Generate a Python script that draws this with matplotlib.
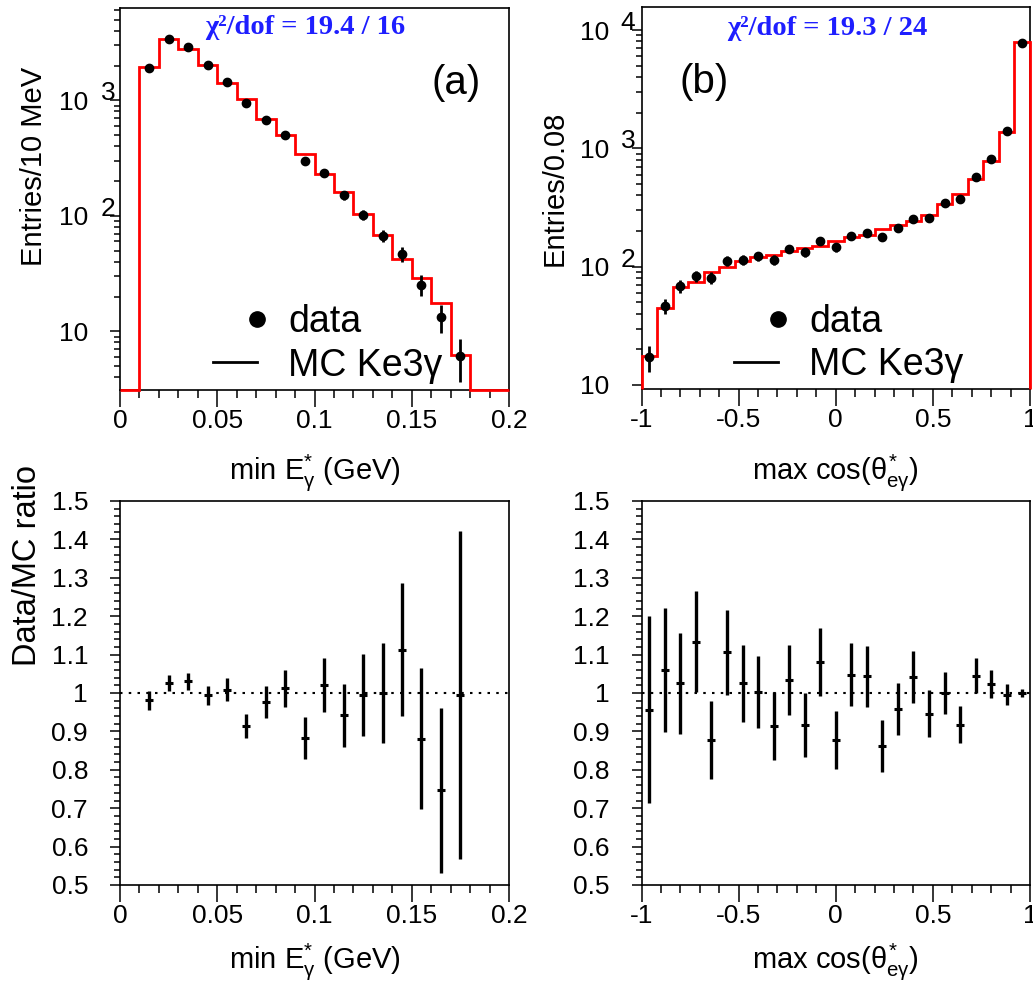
import numpy as np
import matplotlib
matplotlib.use("Agg")
import matplotlib.pyplot as plt
from matplotlib.ticker import MultipleLocator, FuncFormatter, LogLocator, NullFormatter, FixedLocator
from matplotlib.lines import Line2D
from matplotlib.legend_handler import HandlerBase
import matplotlib.transforms as mtransforms

plt.rcParams['font.family'] = ['Liberation Sans', 'DejaVu Sans']
plt.rcParams['mathtext.fontset'] = 'custom'
plt.rcParams['mathtext.rm'] = 'Liberation Sans'
plt.rcParams['mathtext.it'] = 'Liberation Sans'
plt.rcParams['mathtext.bf'] = 'Liberation Sans:bold'

# ---------------- data: panel (a) min E*_gamma ----------------
egam_edges = np.linspace(0.0, 0.2, 21)
egam_mc = np.array([0, 1941, 3388, 2805, 2032, 1406, 1026, 687, 498, 340,
                    232, 160, 103, 68, 42.6, 28.9, 17.6, 6.2, 0, 0])
egam_data = np.array([0, 1915, 3428, 2904, 2032, 1429, 942, 673, 498, 299,
                      235, 150, 102, 67, 47, 25.4, 13.2, 6.1, 0, 0])
egam_ratio = np.array([np.nan, 0.981, 1.026, 1.030, 0.994, 1.009, 0.915, 0.976, 1.012, 0.883,
                       1.021, 0.942, 0.995, 1.000, 1.113, 0.881, 0.747, 0.995, np.nan, np.nan])
egam_ratio_err = np.array([np.nan, 0.024, 0.020, 0.021, 0.024, 0.029, 0.031, 0.041, 0.048, 0.054,
                           0.071, 0.082, 0.106, 0.129, 0.173, 0.184, 0.215, 0.426, np.nan, np.nan])

# ---------------- data: panel (b) max cos(theta*_e gamma) ----------------
cos_edges = np.linspace(-1.0, 1.0, 26)
cos_mc = np.array([17.7, 44.5, 66.9, 73.8, 90.7, 100, 111.7, 120, 125.5, 136.5,
                   143, 149.7, 166, 177, 184, 207, 225, 245, 273.5, 339,
                   412, 551, 787, 1384, 7980])
cos_data = np.array([17.1, 46.8, 68.7, 83.4, 80.7, 111.7, 113.9, 123.1, 113.9, 141.2,
                     132.5, 164.8, 145.9, 182.8, 191.5, 177.2, 211, 251.8, 259.6, 343.6,
                     373.5, 576, 809, 1403, 7830])
cos_ratio = np.array([0.957, 1.060, 1.025, 1.134, 0.877, 1.106, 1.025, 1.002, 0.914, 1.035,
                      0.917, 1.080, 0.878, 1.048, 1.043, 0.862, 0.959, 1.041, 0.946, 1.000,
                      0.917, 1.045, 1.024, 0.996, 1.000])
cos_ratio_err = np.array([0.244, 0.162, 0.131, 0.131, 0.101, 0.110, 0.100, 0.094, 0.089, 0.091,
                          0.084, 0.088, 0.076, 0.081, 0.080, 0.067, 0.068, 0.068, 0.061, 0.055,
                          0.048, 0.045, 0.037, 0.027, 0.011])

chi2_a = "χ²/dof = 19.4 / 16"
chi2_b = "χ²/dof = 19.3 / 24"
legend_labels = ['data', 'MC Ke3γ']

W, H = 1033, 986
fig = plt.figure(figsize=(W / 100, H / 100), dpi=100)


def frac_axes(x0, x1, ytop, ybot):
    return fig.add_axes([x0 / W, (H - ybot) / H, (x1 - x0) / W, (ybot - ytop) / H])


axA = frac_axes(120, 509, 8, 390)
axB = frac_axes(641.5, 1030, 7.5, 389)
axC = frac_axes(120, 509, 501, 885)
axD = frac_axes(641.5, 1030, 501, 885)

TICK_FS = 19
LABEL_FS = 21

for ax in (axA, axB, axC, axD):
    for s in ax.spines.values():
        s.set_linewidth(1.2)
    ax.tick_params(axis='x', which='major', direction='out', length=12, width=1.1,
                   labelsize=TICK_FS, pad=2, top=False)
    ax.tick_params(axis='x', which='minor', direction='out', length=6, width=1.1, top=False)
    ax.tick_params(axis='y', which='major', direction='out', length=7, width=1.1,
                   labelsize=TICK_FS, pad=16, right=False)
    ax.tick_params(axis='y', which='minor', direction='out', length=4.5, width=1.1, right=False)

fmt_g = FuncFormatter(lambda v, p: "%g" % v)


def pow_label(ax, x_exp, yvals):
    tr = mtransforms.blended_transform_factory(ax.transAxes, ax.transData)
    for v in yvals:
        n = int(round(np.log10(v)))
        ax.text(x_exp, v, str(n), transform=tr, ha='left', va='baseline',
                fontsize=TICK_FS, clip_on=False)


def log_setup(ax, ylo, yhi, majors, x_exp):
    ax.set_yscale('log')
    ax.set_ylim(ylo, yhi)
    ax.yaxis.set_major_locator(FixedLocator(majors))
    ax.yaxis.set_major_formatter(FuncFormatter(lambda v, p: "10"))
    ax.yaxis.set_minor_locator(LogLocator(base=10, subs=np.arange(2, 10)))
    ax.yaxis.set_minor_formatter(NullFormatter())
    pow_label(ax, x_exp, [m for m in majors if m > 10])


class RightDot(HandlerBase):
    def create_artists(self, legend, orig_handle, xdescent, ydescent, width, height,
                       fontsize, trans):
        m = Line2D([width - xdescent], [height / 2.0 - ydescent], marker='o', ls='',
                   color='k', ms=11, transform=trans)
        return [m]


def legend(ax, x0, yc):
    dot = Line2D([], [], marker='o', ls='', color='k', ms=11)
    line = Line2D([], [], color='k', lw=2)
    ax.legend([dot, line], legend_labels, loc='center left', bbox_to_anchor=(x0, yc),
              frameon=False, fontsize=27, handlelength=1.17, handletextpad=0.83,
              labelspacing=0.2, borderpad=0, borderaxespad=0,
              handler_map={dot: RightDot()})


# ---------------- panel (a) ----------------
yloA, yhiA = 3.1, 6300
ca = 0.5 * (egam_edges[:-1] + egam_edges[1:])
axA.stairs(np.where(egam_mc > 0, egam_mc, yloA), egam_edges, color='red', lw=2,
           baseline=None, zorder=3, clip_on=False)
m = egam_data > 0
axA.errorbar(ca[m], egam_data[m], yerr=np.sqrt(egam_data[m]), fmt='o', color='k',
             ms=6, elinewidth=2, capsize=0, zorder=4)
axA.set_xlim(0, 0.2)
log_setup(axA, yloA, yhiA, [10, 100, 1000], -0.050)
axA.xaxis.set_major_locator(MultipleLocator(0.05))
axA.xaxis.set_minor_locator(MultipleLocator(0.01))
axA.xaxis.set_major_formatter(fmt_g)
axA.set_xlabel(r"min E$^{*}_{\gamma}$ (GeV)", fontsize=LABEL_FS, va='baseline')
axA.xaxis.set_label_coords(0.5, -0.232)
axA.set_ylabel("Entries/10 MeV", fontsize=LABEL_FS, va='center', ha='center')
axA.yaxis.set_label_coords(-0.221, 0.584)
axA.text(0.476, 0.948, chi2_a, transform=axA.transAxes, ha='center', va='center',
         family='Liberation Serif', weight='bold', color='#1e1eff', fontsize=20.5)
axA.text(0.864, 0.804, "(a)", transform=axA.transAxes, ha='center', va='center', fontsize=29)
legend(axA, 0.239, 0.121)

# ---------------- panel (b) ----------------
yloB, yhiB = 9.25, 15500
cb = 0.5 * (cos_edges[:-1] + cos_edges[1:])
axB.stairs(cos_mc, cos_edges, color='red', lw=2, baseline=yloB, zorder=3, clip_on=False)
axB.errorbar(cb, cos_data, yerr=np.sqrt(cos_data), fmt='o', color='k',
             ms=6, elinewidth=2, capsize=0, zorder=4)
axB.set_xlim(-1, 1)
log_setup(axB, yloB, yhiB, [10, 100, 1000, 10000], -0.054)
axB.xaxis.set_major_locator(MultipleLocator(0.5))
axB.xaxis.set_minor_locator(MultipleLocator(0.1))
axB.xaxis.set_major_formatter(fmt_g)
axB.set_xlabel(r"max cos($\theta^{*}_{e\gamma}$)", fontsize=LABEL_FS, va='baseline')
axB.xaxis.set_label_coords(0.5, -0.235)
axB.set_ylabel("Entries/0.08", fontsize=LABEL_FS, va='center', ha='center')
axB.yaxis.set_label_coords(-0.2226, 0.525)
axB.text(0.479, 0.946, chi2_b, transform=axB.transAxes, ha='center', va='center',
         family='Liberation Serif', weight='bold', color='#1e1eff', fontsize=20.5)
axB.text(0.16, 0.806, "(b)", transform=axB.transAxes, ha='center', va='center', fontsize=29)
legend(axB, 0.238, 0.119)

# ---------------- ratio panels ----------------
for ax, c, r, e, xl in ((axC, ca, egam_ratio, egam_ratio_err, (0, 0.2)),
                        (axD, cb, cos_ratio, cos_ratio_err, (-1, 1))):
    ok = ~np.isnan(r)
    ax.axhline(1.0, color='k', ls=(0, (1.2, 3.0)), lw=1.5, zorder=1)
    ax.errorbar(c[ok], r[ok], yerr=e[ok], fmt='_', color='k', ms=5.5, mew=2.2,
                elinewidth=2.4, capsize=0, zorder=3)
    ax.set_xlim(*xl)
    ax.set_ylim(0.5, 1.5)
    ax.yaxis.set_major_locator(MultipleLocator(0.1))
    ax.yaxis.set_minor_locator(MultipleLocator(0.02))
    ax.yaxis.set_major_formatter(fmt_g)
    ax.xaxis.set_major_formatter(fmt_g)

axC.xaxis.set_major_locator(MultipleLocator(0.05))
axC.xaxis.set_minor_locator(MultipleLocator(0.01))
axD.xaxis.set_major_locator(MultipleLocator(0.5))
axD.xaxis.set_minor_locator(MultipleLocator(0.1))
axC.set_xlabel(r"min E$^{*}_{\gamma}$ (GeV)", fontsize=LABEL_FS, va='baseline')
axC.xaxis.set_label_coords(0.5, -0.216)
axD.set_xlabel(r"max cos($\theta^{*}_{e\gamma}$)", fontsize=LABEL_FS, va='baseline')
axD.xaxis.set_label_coords(0.5, -0.216)
axC.set_ylabel("Data/MC ratio", fontsize=23.5, va='center', ha='center')
axC.yaxis.set_label_coords(-0.237, 0.833)

fig.savefig("out.png", dpi=100)
